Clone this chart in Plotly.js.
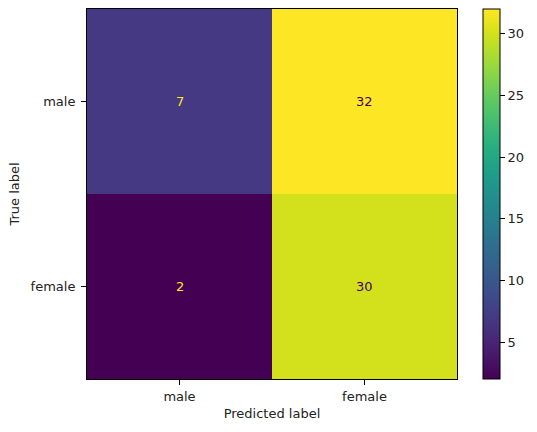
<!DOCTYPE html>
<html>
<head>
<meta charset="utf-8">
<script src="https://cdn.plot.ly/plotly-3.0.1.min.js"></script>
<style>body{margin:0;background:#fff;}#chart{width:537px;height:432px;}</style>
</head>
<body>
<div id="chart"></div>
<script>
var predictedLabels = ['male', 'female'];
var trueLabels = ['male', 'female'];
var counts = [
  [7, 32],
  [2, 30]
];
var colorbarTicks = [5, 10, 15, 20, 25, 30];

var zmin = 2, zmax = 32;
var annotations = [];
for (var i = 0; i < trueLabels.length; i++) {
  for (var j = 0; j < predictedLabels.length; j++) {
    var v = counts[i][j];
    var frac = (v - zmin) / (zmax - zmin);
    annotations.push({
      x: predictedLabels[j], y: trueLabels[i], xref: 'x', yref: 'y',
      text: String(v), showarrow: false,
      font: {family: 'DejaVu Sans', size: 13, color: frac < 0.5 ? '#fde725' : '#440154'}
    });
  }
}

var trace = {
  type: 'heatmap',
  x: predictedLabels, y: trueLabels, z: counts,
  colorscale: 'Viridis', zmin: zmin, zmax: zmax,
  xgap: 0, ygap: 0, hoverinfo: 'none',
  colorbar: {
    x: 1.07, xanchor: 'left', xref: 'paper',
    y: 0, yanchor: 'bottom', len: 1, lenmode: 'fraction',
    thickness: 17, thicknessmode: 'pixels',
    outlinewidth: 1, outlinecolor: '#000',
    tickvals: colorbarTicks, ticks: 'outside', ticklen: 5, tickwidth: 1, tickcolor: '#000',
    ticklabelstandoff: 3,
    tickfont: {family: 'DejaVu Sans', size: 13, color: '#222'},
    xpad: 0, ypad: 0
  }
};

var layout = {
  width: 537, height: 432,
  margin: {l: 87, r: 80, t: 9, b: 53},
  paper_bgcolor: '#fff', plot_bgcolor: '#fff',
  font: {family: 'DejaVu Sans', size: 13, color: '#222'},
  xaxis: {
    type: 'category', showline: true, mirror: true, linecolor: '#000', linewidth: 1,
    ticks: 'outside', ticklen: 5, tickcolor: '#000', showgrid: false, zeroline: false,
    title: {text: 'Predicted label', font: {size: 13}, standoff: 6},
    tickfont: {size: 13}
  },
  yaxis: {
    type: 'category', autorange: 'reversed', showline: true, mirror: true, linecolor: '#000', linewidth: 1,
    ticks: 'outside', ticklen: 5, tickcolor: '#000', showgrid: false, zeroline: false,
    ticklabelstandoff: 3,
    title: {text: 'True label', font: {size: 13}, standoff: 8},
    tickfont: {size: 13}
  },
  annotations: annotations
};

Plotly.newPlot('chart', [trace], layout, {displayModeBar: false, staticPlot: true});
</script>
</body>
</html>
